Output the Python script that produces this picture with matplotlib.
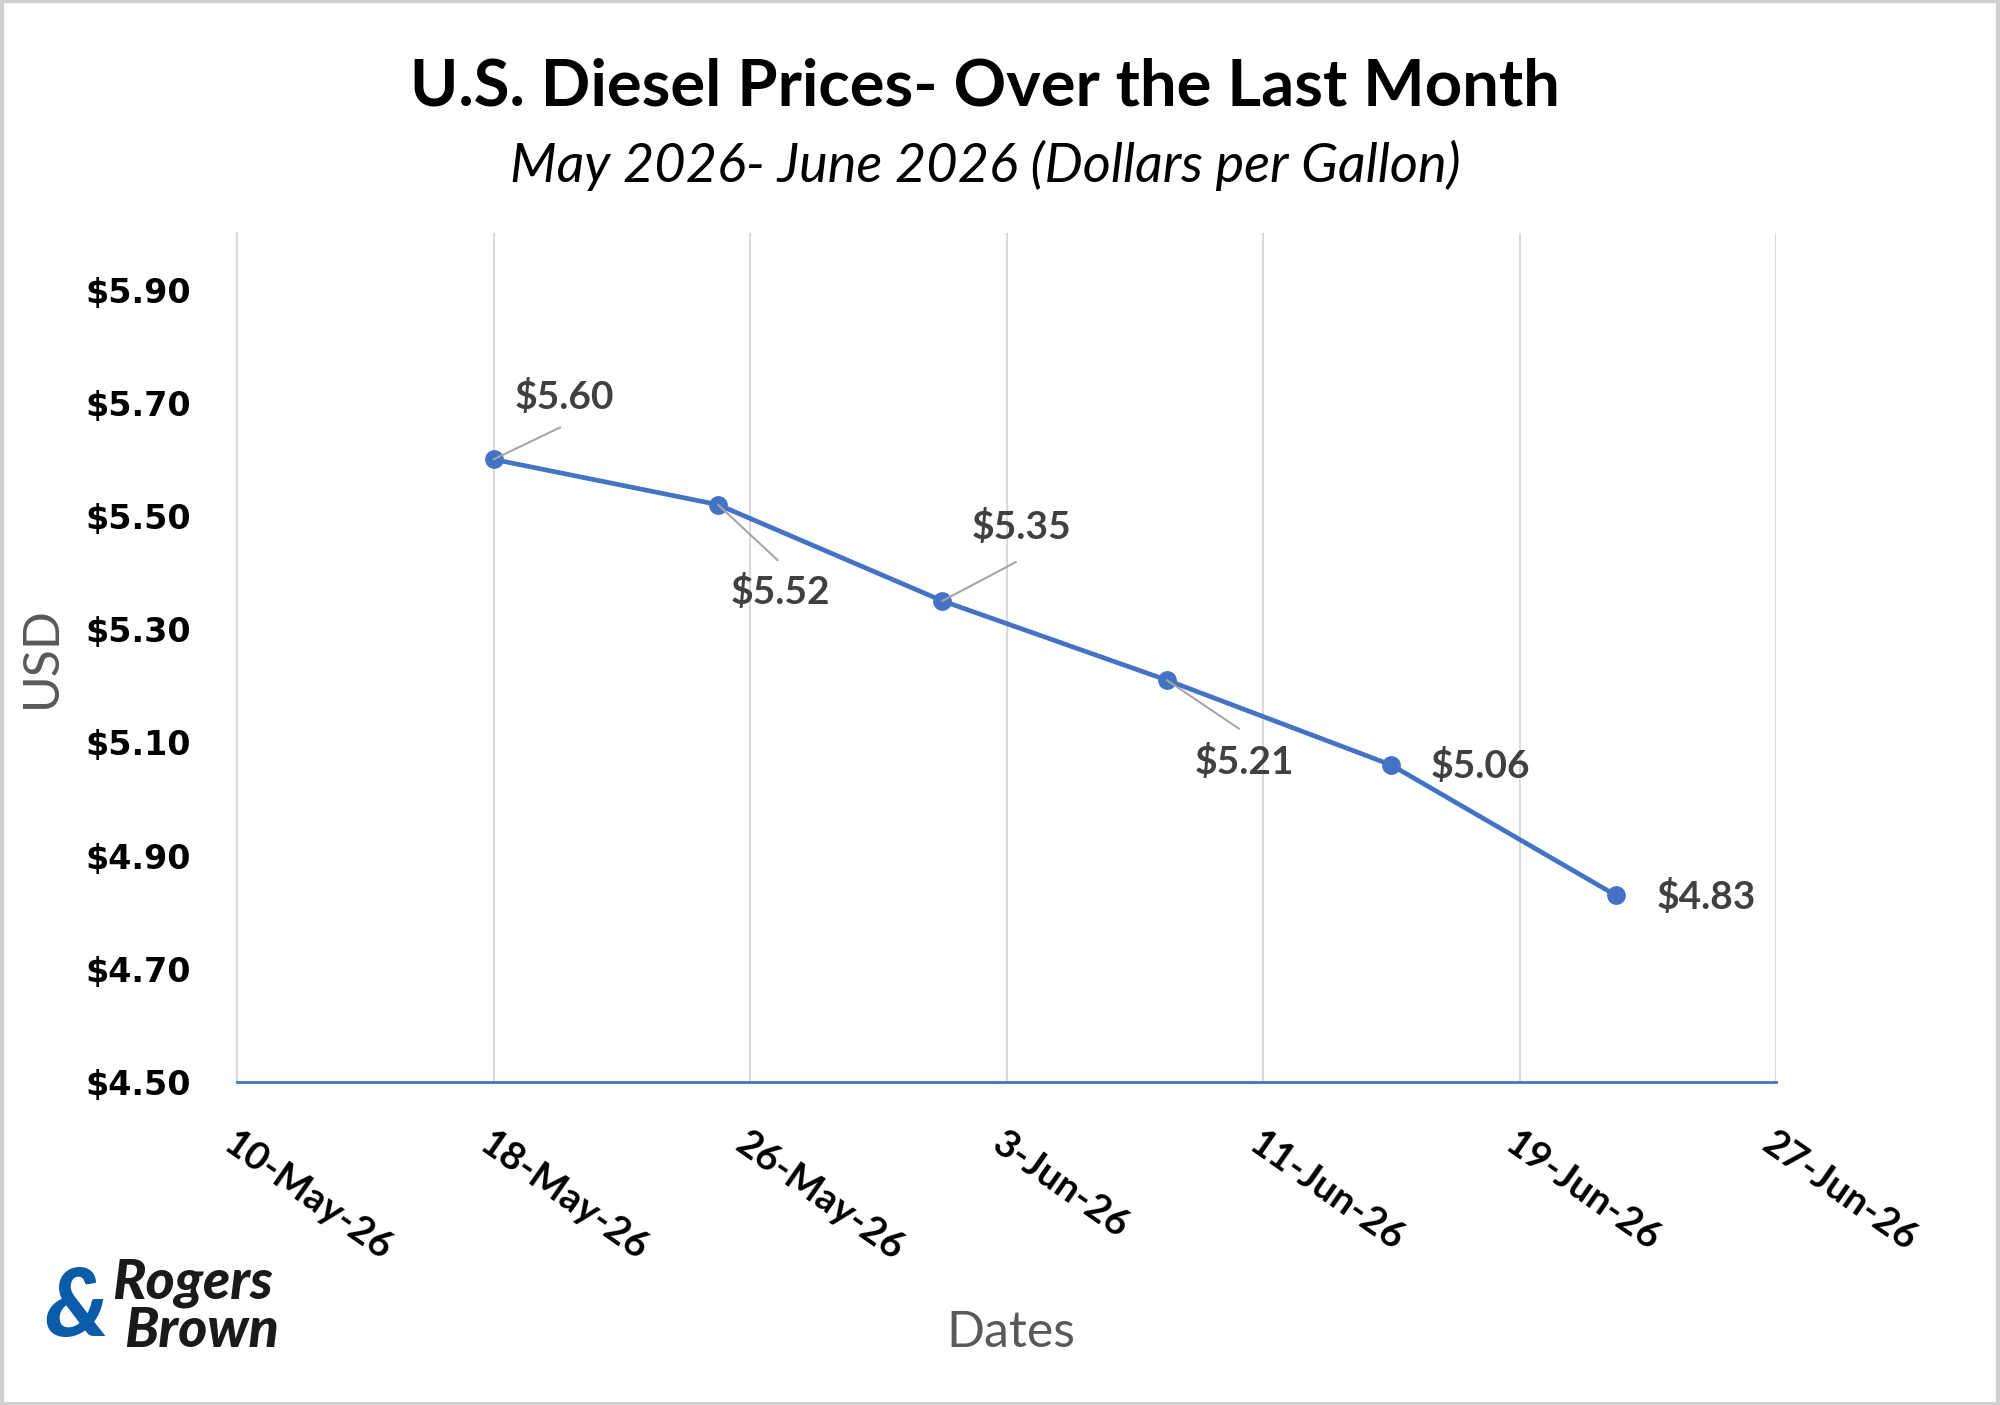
import pandas as pd
import matplotlib.pyplot as plt
from matplotlib.patches import Rectangle

# weekly U.S. diesel prices
dates = pd.to_datetime(["2026-05-18", "2026-05-25", "2026-06-01",
                        "2026-06-08", "2026-06-15", "2026-06-22"])
prices = [5.60, 5.52, 5.35, 5.21, 5.06, 4.83]
tick_dates = pd.date_range("2026-05-10", "2026-06-27", freq="8D")
y_ticks = [4.50, 4.70, 4.90, 5.10, 5.30, 5.50, 5.70, 5.90]

# where each value label sits (offset points) and where its leader line ends
label_offsets = [(51, 45), (45, -63), (57, 53), (56, -59), (64, -1), (65, -1)]
leader_ends = [(48, 23), (43, -40), (53, 28), (52, -35), None, None]

BLUE = "#4472C4"
FONT = "Lato"

fig = plt.figure(figsize=(20, 14.05), dpi=100)
fig.patches.append(Rectangle((0.001, 0.001), 0.998, 0.998, transform=fig.transFigure,
                             fill=False, edgecolor="#D0D0D0", lw=3))

ax = fig.add_axes([0.1185, 0.2299, 0.7695, 0.6043])
ax.plot(dates, prices, color=BLUE, lw=3.4, marker="o", ms=12.5, zorder=3)

ax.set_xlim(tick_dates[0], tick_dates[-1])
ax.set_ylim(4.5, 6.0)
ax.set_xticks(tick_dates)
ax.set_xticklabels([f"{d.day}-{d:%b-%y}" for d in tick_dates], rotation=-35,
                   ha="left", va="top", rotation_mode="anchor",
                   fontsize=28, family=FONT, fontweight="bold")
ax.set_yticks(y_ticks)
ax.set_yticklabels([f"${v:.2f}" for v in y_ticks], fontsize=24, fontweight="bold")
ax.tick_params(length=0)
ax.tick_params(axis="y", pad=33)
ax.tick_params(axis="x", pad=31)

ax.grid(axis="x", color="#D9D9D9", lw=1.5)
ax.spines["top"].set_visible(False)
ax.spines["right"].set_visible(False)
ax.spines["left"].set_color("#D9D9D9")
ax.spines["left"].set_linewidth(1.5)
ax.spines["bottom"].set_color(BLUE)
ax.spines["bottom"].set_linewidth(2)

for d, v, off, lead in zip(dates, prices, label_offsets, leader_ends):
    if lead is not None:
        ax.annotate("", xy=(d, v), xytext=lead, textcoords="offset points",
                    arrowprops=dict(arrowstyle="-", color="#A6A6A6", lw=1.5,
                                    shrinkA=0, shrinkB=0), zorder=4)
    ax.annotate(f"${v:.2f}", xy=(d, v), xytext=off, textcoords="offset points",
                ha="center", va="center", fontsize=28, family=FONT,
                fontweight="bold", color="#404040")

fig.text(0.4925, 0.938, "U.S. Diesel Prices- Over the Last Month", ha="center",
         va="center", fontsize=47, fontweight="bold", family=FONT)
fig.text(0.4925, 0.882, "May 2026- June 2026 (Dollars per Gallon)", ha="center",
         va="center", fontsize=39, style="italic", family=FONT)
fig.text(0.021, 0.532, "USD", rotation=90, ha="center", va="center",
         fontsize=36, family=FONT, color="#595959")
fig.text(0.5055, 0.0512, "Dates", ha="center", va="center",
         fontsize=36, family=FONT, color="#595959")

# logo
fig.text(0.038, 0.068, "&", ha="center", va="center", fontsize=68,
         family=FONT, fontweight="black", style="italic", color="#0B5CA8")
fig.text(0.056, 0.087, "Rogers", ha="left", va="center", fontsize=40,
         family=FONT, fontweight="black", style="italic", color="#1A1A1A")
fig.text(0.062, 0.053, "Brown", ha="left", va="center", fontsize=40,
         family=FONT, fontweight="black", style="italic", color="#1A1A1A")

fig.savefig("out.png", dpi=100)
